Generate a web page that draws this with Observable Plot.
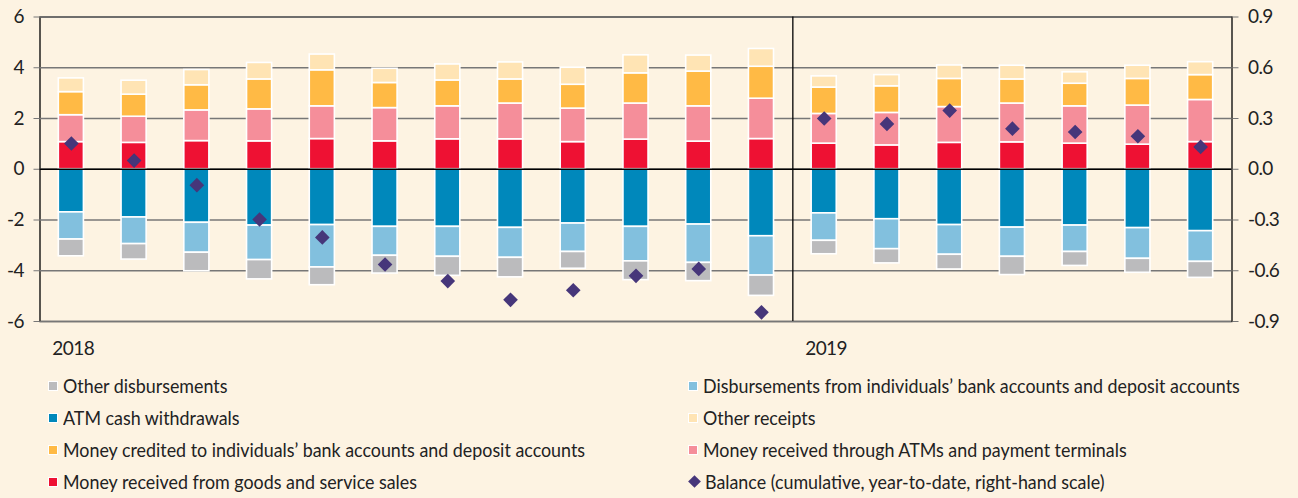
<!DOCTYPE html>
<html>
<head>
<meta charset="utf-8">
<script src="https://cdn.jsdelivr.net/npm/d3@7"></script>
<script src="https://cdn.jsdelivr.net/npm/@observablehq/plot@0.6"></script>
<style>
  html, body { margin: 0; padding: 0; background: #FDF3E2; }
  body { width: 1298px; height: 498px; overflow: hidden; font-family: "Lato", sans-serif; color: #222; }
  #chart svg { display: block; }
  #chart svg text { letter-spacing: -0.6px; }
  #legend { display: grid; grid-template-columns: 640px auto; padding-left: 47.5px; padding-top: 9.7px; }
  .item { height: 32px; display: flex; align-items: center; font-size: 19px; white-space: nowrap; }
  .item .t { display: inline-block; transform: scaleX(0.94); transform-origin: left center; }
  .sw { width: 8px; height: 8px; border: 1px solid #fff; margin-right: 5px; flex: none; }
  .dia { width: 9px; height: 9px; transform: rotate(45deg); margin: 0 6px 0 2px; flex: none; }
</style>
</head>
<body>
<div id="chart"></div>
<div id="legend"></div>
<script>
const months = ["2018-01","2018-02","2018-03","2018-04","2018-05","2018-06","2018-07","2018-08","2018-09","2018-10","2018-11","2018-12",
                "2019-01","2019-02","2019-03","2019-04","2019-05","2019-06","2019-07"];

const seriesNames = [
  "Money received from goods and service sales",
  "Money received through ATMs and payment terminals",
  "Money credited to individuals’ bank accounts and deposit accounts",
  "Other receipts",
  "ATM cash withdrawals",
  "Disbursements from individuals’ bank accounts and deposit accounts",
  "Other disbursements"
];
const seriesColors = ["#EE1133", "#F58E9A", "#FFBA45", "#FFE4B4", "#0088BB", "#82C0DE", "#BBBBBD"];

const goodsSales     = [1.07,1.04,1.11,1.10,1.19,1.10,1.18,1.18,1.07,1.17,1.09,1.19, 1.01,0.94,1.04,1.06,1.01,0.97,1.07];
const atmTerminals   = [1.06,1.03,1.21,1.26,1.29,1.31,1.30,1.41,1.32,1.42,1.39,1.59, 1.17,1.28,1.41,1.53,1.47,1.54,1.66];
const moneyCredited  = [0.91,0.87,0.99,1.18,1.42,0.99,1.02,0.95,0.94,1.19,1.37,1.26, 1.04,1.05,1.11,0.95,0.89,1.05,0.98];
const otherReceipts  = [0.54,0.55,0.60,0.65,0.62,0.56,0.63,0.67,0.67,0.71,0.63,0.70, 0.44,0.44,0.53,0.54,0.45,0.52,0.51];
const atmWithdrawals = [-1.70,-1.90,-2.11,-2.22,-2.20,-2.27,-2.27,-2.31,-2.14,-2.27,-2.18,-2.64, -1.74,-1.97,-2.20,-2.30,-2.22,-2.32,-2.44];
const accountDisb    = [-1.07,-1.05,-1.18,-1.36,-1.67,-1.14,-1.18,-1.18,-1.12,-1.36,-1.51,-1.55, -1.08,-1.18,-1.17,-1.15,-1.04,-1.21,-1.21];
const otherDisb      = [-0.66,-0.61,-0.73,-0.76,-0.70,-0.70,-0.75,-0.77,-0.66,-0.74,-0.72,-0.80, -0.53,-0.56,-0.58,-0.72,-0.55,-0.55,-0.63];
const balance        = [0.152,0.051,-0.094,-0.297,-0.403,-0.563,-0.661,-0.772,-0.715,-0.630,-0.589,-0.846, 0.300,0.268,0.347,0.240,0.220,0.195,0.132];
const balanceName = "Balance (cumulative, year-to-date, right-hand scale)";

const leftTicks = [-6,-4,-2,0,2,4,6];
const rightFactor = 0.15; // right-hand scale: 0.9 ↔ 6
const yearLabels = [{month: "2018-01", label: "2018"}, {month: "2019-01", label: "2019"}];

const seriesValues = [goodsSales, atmTerminals, moneyCredited, otherReceipts, atmWithdrawals, accountDisb, otherDisb];
const rows = [];
months.forEach((m, i) => {
  seriesNames.forEach((s, j) => rows.push({month: m, series: s, value: seriesValues[j][i]}));
});
const balRows = months.map((m, i) => ({month: m, balance: balance[i]}));

const W = 1298, H = 360;
const mL = 39.5, mR = 66.5, mT = 16.5, mB = H - 321;
const step = (W - mL - mR) / months.length;

const chart = Plot.plot({
  width: W, height: H,
  marginLeft: mL, marginRight: mR, marginTop: mT, marginBottom: mB,
  style: {background: "transparent", fontFamily: "Lato, sans-serif", fontSize: "19px", color: "#222", overflow: "visible"},
  x: {domain: months, paddingInner: 0.6, paddingOuter: 0.3, round: false, axis: null},
  y: {domain: [-6, 6], axis: null},
  color: {domain: seriesNames, range: seriesColors},
  marks: [
    Plot.frame({stroke: "#000", strokeWidth: 1.3}),
    Plot.gridY(leftTicks, {stroke: "#777", strokeOpacity: 1, strokeWidth: 1.3}),
    Plot.axisY(leftTicks, {anchor: "left", tickSize: 6, tickPadding: 10, stroke: "#777", label: null, fontSize: 19,
      tickFormat: d => String(d)}),
    Plot.axisY(leftTicks, {anchor: "right", tickSize: 6, tickPadding: 10, stroke: "#777", label: null, fontSize: 19,
      tickFormat: d => (d * rightFactor).toFixed(1)}),
    Plot.barY(rows, {x: "month", y: "value", fill: "series", stroke: "#fff", strokeWidth: 1.6}),
    Plot.ruleY([0], {stroke: "#000", strokeWidth: 1.5}),
    Plot.ruleX(["2019-01"], {x: d => d, dx: -step / 2, stroke: "#000", strokeWidth: 1.3}),
    Plot.dot(balRows, {x: "month", y: d => d.balance / rightFactor, symbol: "diamond2", r: 6.6, fill: "#46367A", stroke: "none"}),
    Plot.text(yearLabels, {x: "month", y: () => -6, text: "label", dy: 27, dx: -19, textAnchor: "start", fontSize: 19, fill: "#222"})
  ]
});
document.getElementById("chart").append(chart);

// Legend
const legendOrder = [
  ["Other disbursements", "Disbursements from individuals’ bank accounts and deposit accounts"],
  ["ATM cash withdrawals", "Other receipts"],
  ["Money credited to individuals’ bank accounts and deposit accounts", "Money received through ATMs and payment terminals"],
  ["Money received from goods and service sales", balanceName]
];
const legend = document.getElementById("legend");
legendOrder.flat().forEach(name => {
  const item = document.createElement("div");
  item.className = "item";
  const sw = document.createElement("span");
  if (name === balanceName) {
    sw.className = "dia";
    sw.style.background = "#46367A";
  } else {
    sw.className = "sw";
    sw.style.background = seriesColors[seriesNames.indexOf(name)];
  }
  const t = document.createElement("span");
  t.className = "t";
  t.textContent = name;
  item.append(sw, t);
  legend.append(item);
});
</script>
</body>
</html>
